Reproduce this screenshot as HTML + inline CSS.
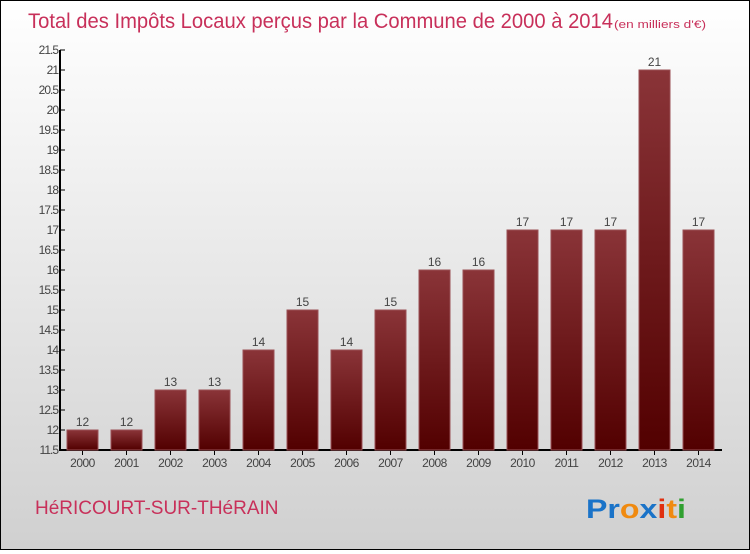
<!DOCTYPE html>
<html><head><meta charset="utf-8"><style>
html,body{margin:0;padding:0}
body{width:750px;height:550px;overflow:hidden;font-family:"Liberation Sans",sans-serif}
#c{position:absolute;left:0;top:0;width:748px;height:548px;border:1px solid #000;background:linear-gradient(#ffffff,#d0d0d0)}
</style></head><body>
<div id="c">
<svg width="748" height="548" xmlns="http://www.w3.org/2000/svg">
<defs><linearGradient id="g" x1="0" y1="0" x2="0" y2="1"><stop offset="0" stop-color="#8a3438"/><stop offset="1" stop-color="#520000"/></linearGradient></defs>
<text x="27" y="27" font-size="21" fill="#c8305a" textLength="585" lengthAdjust="spacingAndGlyphs">Total des Impôts Locaux perçus par la Commune de 2000 à 2014</text>
<text x="613" y="27" font-size="11" fill="#c8305a" textLength="92" lengthAdjust="spacingAndGlyphs">(en milliers d'€)</text>
<g id="axes"></g>
<g id="bars"></g>
<text x="34" y="513" font-size="19" fill="#c8305a">HéRICOURT-SUR-THéRAIN</text>
<text x="585" y="517" font-size="27" font-weight="bold" textLength="100" lengthAdjust="spacingAndGlyphs"><tspan fill="#1a73c8">Pr</tspan><tspan fill="#f08a10">o</tspan><tspan fill="#1a73c8">x</tspan><tspan fill="#e03010">i</tspan><tspan fill="#f08a10">t</tspan><tspan fill="#30a030">i</tspan></text>
</svg></div>
<script>
const categories=["2000","2001","2002","2003","2004","2005","2006","2007","2008","2009","2010","2011","2012","2013","2014"];
const values=[12,12,13,13,14,15,14,15,16,16,17,17,17,21,17];
const yTicks=[11.5,12,12.5,13,13.5,14,14.5,15,15.5,16,16.5,17,17.5,18,18.5,19,19.5,20,20.5,21,21.5];
const NS="http://www.w3.org/2000/svg";
const y=v=>449-(v-11.5)*40;
const x=i=>81.5+i*44;
const ax=document.getElementById('axes'),bs=document.getElementById('bars');
function mk(t,a,p){const e=document.createElementNS(NS,t);for(const k in a)e.setAttribute(k,a[k]);p.appendChild(e);return e;}
let l=mk('line',{x1:59,y1:49,x2:59,y2:450,stroke:'#000','stroke-width':2},ax);


l=mk('line',{x1:58,y1:449,x2:721,y2:449,stroke:'#000','stroke-width':2},ax);


yTicks.forEach(v=>{
  mk('line',{x1:59,y1:y(v),x2:64,y2:y(v),stroke:'#000'},ax);
  const t=mk('text',{x:57,y:y(v)+4,'font-size':12,'text-anchor':'end',fill:'#444','letter-spacing':'-1'},ax);
  t.textContent=String(v);
  
  
});
categories.forEach((c,i)=>{
  const v=values[i];
  const r=mk('rect',{x:x(i)-15.5,y:y(v),width:31,height:449-y(v),fill:'url(#g)',stroke:'#9a5055','stroke-width':1},bs);
  
  
  const t=mk('text',{x:x(i),y:y(v)-4,'font-size':12,'text-anchor':'middle',fill:'#444'},bs);
  t.textContent=String(v);
  
  
  mk('line',{x1:x(i),y1:449,x2:x(i),y2:454,stroke:'#000'},ax);
  const xl=mk('text',{x:x(i),y:466,'font-size':12,'text-anchor':'middle',fill:'#444','letter-spacing':'-0.5'},ax);
  xl.textContent=c;
  
  
});
</script>
</body></html>
